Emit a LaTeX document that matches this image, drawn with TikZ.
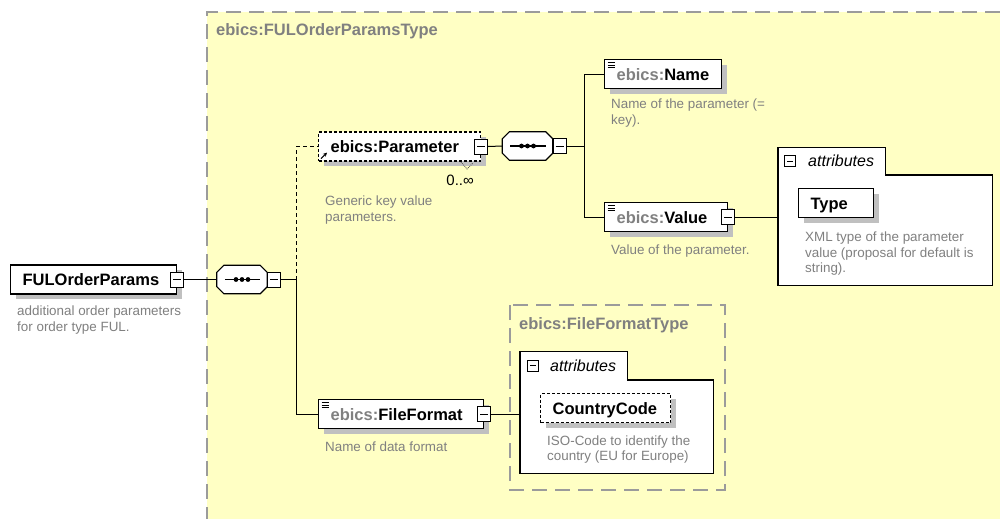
\documentclass[tikz,border=0pt]{standalone}
\usepackage{fontspec}
\setmainfont{Liberation Sans}
\usepackage{tikz}
\usetikzlibrary{arrows.meta,shadows,positioning,calc}
\definecolor{typebg}{RGB}{255,255,196}
\definecolor{framegray}{RGB}{155,155,155}
\definecolor{labgray}{RGB}{128,128,128}
\definecolor{descgray}{RGB}{128,128,128}
\definecolor{shadowgray}{RGB}{192,192,192}
\newcommand{\elemfont}{\fontsize{16.5}{19}\selectfont\bfseries}
\newcommand{\descfont}{\fontsize{13.4}{15.5}\selectfont}
\newcommand{\ns}{\textcolor{labgray}{ebics:}}
% octagon round a sequence node
\newcommand{\octo}[2][]{%
  \path[#1] ([xshift=7pt]#2.north west) -- ([xshift=-7pt]#2.north east) -- ([yshift=-7pt]#2.north east)
    -- ([yshift=7pt]#2.south east) -- ([xshift=-7pt]#2.south east) -- ([xshift=7pt]#2.south west)
    -- ([yshift=7pt]#2.south west) -- ([yshift=-7pt]#2.north west) -- cycle;}
\tikzset{
  shadowed/.style={drop shadow={shadow xshift=5pt,shadow yshift=-5pt,opacity=1,fill=shadowgray}},
  elem/.style={draw=black,line width=1.2pt,fill=white,minimum height=29pt,inner xsep=12pt,inner ysep=0pt,
    text width=#1,align=left,font=\elemfont,text height=12pt,text depth=0pt,anchor=west,shadowed},
  elemi/.style={elem=#1,path picture={
    \foreach \k in {3,5.5,8}
      \draw[line width=0.9pt] ([xshift=3pt,yshift=-\k pt]path picture bounding box.north west) -- ++(7pt,0pt);}},
  optel/.style={elem=#1,dash pattern=on 3pt off 2pt},
  tog/.style={draw=black,line width=1pt,fill=white,minimum width=13pt,minimum height=15pt,inner sep=0pt,
    path picture={\draw[line width=1pt] ([xshift=2.5pt]path picture bounding box.west)
      -- ([xshift=-2.5pt]path picture bounding box.east);}},
  tabtog/.style={tog,minimum width=11pt,minimum height=11pt},
  seq/.style={minimum width=50pt,minimum height=28pt,inner sep=0pt},
  seqline/.style={draw=black,line width=1.2pt,fill=white},
  seqshadow/.style={fill=shadowgray,shift={(5pt,-5pt)}},
  conn/.style={line width=1pt,black},
  typeframe/.style={draw=framegray,line width=1.6pt,dash pattern=on 15pt off 8pt},
  grpbody/.style={fill=white,inner sep=0pt,anchor=north west},
  grptab/.style={fill=white,inner sep=0pt,minimum height=27pt,text width=107pt,align=left,
    font=\fontsize{16}{19}\selectfont\itshape,anchor=south west,text height=11pt,text depth=0pt},
  grpline/.style={draw=black,line width=1.2pt},
  desc/.style={font=\descfont,text=descgray,align=left,inner sep=0pt,anchor=north west},
  grplab/.style={font=\elemfont,text=labgray,inner sep=0pt,anchor=west},
  mult/.style={font=\fontsize{15}{17}\selectfont,inner sep=0pt,anchor=east}
}

\begin{document}
\begin{tikzpicture}[x=1pt,y=-1pt]
\useasboundingbox (0,0) rectangle (1000,519);
\fill[white] (0,0) rectangle (1000,519);
% type of the root element
\fill[typebg] (207,12) rectangle (1000,519);
\draw[typeframe] (1000,12) -- (207,12) -- (207,519);
\node[grplab] (fultype) at (216,31) {ebics:FULOrderParamsType};

\node[elem=142pt] (ful) at (10,279.5) {FULOrderParams};
\node[tog] (fulm) at (ful.east) {};
\node[desc] (fuld) at (17,306) {additional order parameters\\for order type FUL.};

% sequences
\foreach \s/\p in {seq1/{242,279.5},seq2/{527.5,146}}{
  \node[seq] (\s) at (\p) {};
  \octo[seqshadow]{\s}
  \octo[seqline]{\s}
  \draw[line width=1.2pt] ([xshift=8pt]\s.west) -- ([xshift=-7pt]\s.east);
  \foreach \d in {-6,0,6}
    \fill[black] ([xshift=\d pt]\s.center) circle (2.4pt);
  \node[tog,anchor=west] (\s m) at (\s.east) {};
}

% Parameter
\node[optel=138pt] (param) at (318,146.5) {ebics:Parameter};
\node[tog] (parm) at (param.east) {};
\draw[line width=1pt,-{Stealth[length=4pt,width=4pt]}] ([xshift=3pt,yshift=3pt]param.south west) -- ++(6,-6);
\draw[black!70,line width=0.8pt,densely dotted] (461,162) -- (467,169) -- (473,163);
\node[mult] (parmult) at (474,180) {0..∞};
\node[desc] (pard) at (325,196) {Generic key value\\parameters.};

\node[elemi=93pt] (name) at (604,74) {\ns Name};
\node[desc] (named) at (611,99) {Name of the parameter (=\\key).};

\node[elemi=99pt] (value) at (604,217) {\ns Value};
\node[tog] (valm) at (value.east) {};
\node[desc] (valued) at (611,245) {Value of the parameter.};

% attributes of Value
\node[grpbody,minimum width=214pt,minimum height=110pt] (vattr) at (778,175) {};
\node[grptab] (vtab) at (vattr.north west) {\hspace*{30pt}attributes};
\node[tabtog] (vtabm) at ([xshift=12pt]vtab.west) {};
\draw[grpline] (vattr.south west) -- (vtab.north west) -- (vtab.north east) -- (vtab.south east)
  -- (vattr.north east) -- (vattr.south east) -- cycle;
\node[elem=51pt,anchor=north west] (type) at ([xshift=20pt,yshift=-13pt]vattr.north west) {Type};
\node[desc] (typed) at ([xshift=7pt,yshift=-13.5pt]type.south west)
  {XML type of the parameter\\value (proposal for default is\\string).};

% FileFormat
\draw[typeframe] (510,305) rectangle (725,490);
\node[grplab] (fftype) at (519,325) {ebics:FileFormatType};
\node[grpbody,minimum width=193pt,minimum height=93pt] (fattr) at (520,380) {};
\node[grptab,minimum height=28pt] (ftab) at (fattr.north west) {\hspace*{30pt}attributes};
\node[tabtog] (ftabm) at ([xshift=13pt]ftab.west) {};
\draw[grpline] (fattr.south west) -- (ftab.north west) -- (ftab.north east) -- (ftab.south east)
  -- (fattr.north east) -- (fattr.south east) -- cycle;
\node[optel=106pt,anchor=north west] (ccode) at ([xshift=20pt,yshift=-13pt]fattr.north west) {CountryCode};
\node[desc] (ccoded) at ([xshift=7pt,yshift=-12pt]ccode.south west)
  {ISO-Code to identify the\\country (EU for Europe)};

\node[elemi=141pt] (ffmt) at (318,414) {\ns FileFormat};
\node[tog] (ffm) at (ffmt.east) {};
\node[desc] (ffmtd) at (325,442) {Name of data format};

% connectors
\draw[conn] (fulm.east) -- (seq1.west);
\draw[conn] (seq1m.east) -- ++(15,0) coordinate (bus1);
\draw[conn,dash pattern=on 4pt off 3pt] (bus1) |- (param.west);
\draw[conn] (bus1) |- (ffmt.west);
\draw[conn] (parm.east) -- (seq2.west);
\draw[conn] (seq2m.east) -- ++(17.5,0) coordinate (bus2);
\draw[conn] (bus2) |- (name.west);
\draw[conn] (bus2) |- (value.west);
\draw[conn] (valm.east) -- (valm.east -| vattr.west);
\draw[conn] (ffm.east) -- (ffm.east -| fattr.west);
\end{tikzpicture}
\end{document}
